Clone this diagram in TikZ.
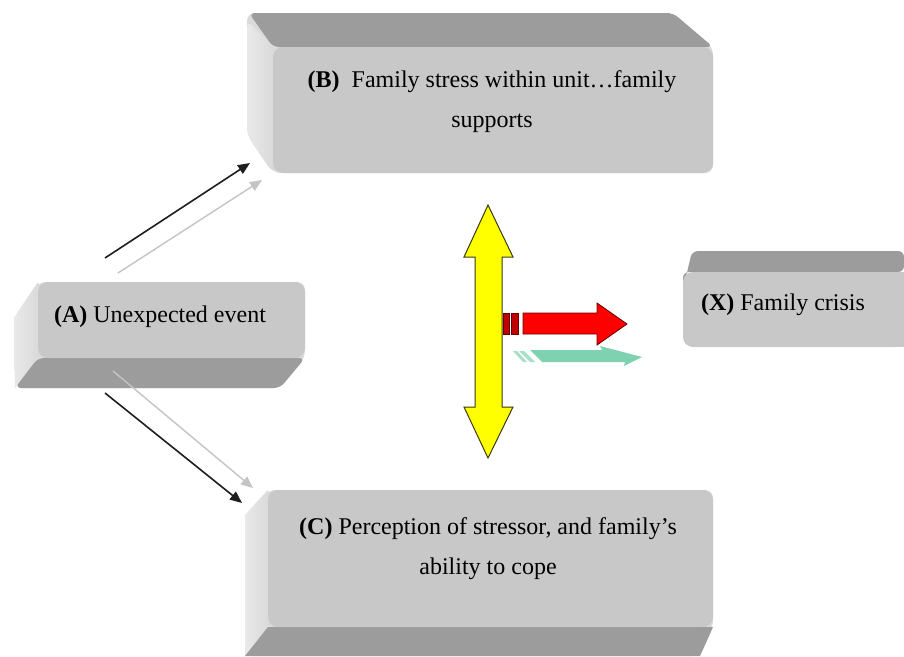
\documentclass[tikz,border=0pt]{standalone}
\usepackage{fontspec}
\setmainfont{Liberation Serif}
\usetikzlibrary{arrows.meta}
\definecolor{frontgray}{HTML}{C8C8C8}
\definecolor{darkface}{HTML}{9C9C9C}
\definecolor{lightface}{HTML}{DADADA}
\definecolor{lineblack}{HTML}{1E1E1E}
\definecolor{linegray}{HTML}{C4C4C4}
\definecolor{yellowfill}{HTML}{FFFF00}
\definecolor{yellowedge}{HTML}{3A3A10}
\definecolor{redfill}{HTML}{FF0000}
\definecolor{redstripe}{HTML}{C00000}
\definecolor{rededge}{HTML}{6A0000}
\definecolor{mint}{HTML}{7ED2B0}
\definecolor{mintlight}{HTML}{A6E0C8}
\tikzset{
  lbl/.style={align=center, inner sep=0pt, font=\fontsize{24}{40}\selectfont, text=black},
  frontface/.style={fill=frontgray, rounded corners=10pt},
  topface/.style={fill=darkface, rounded corners=6pt},
  sideface/.style={fill=lightface, rounded corners=8pt},
  blackarrow/.style={draw=lineblack, line width=1.6pt, -{Triangle[length=12pt,width=10pt]}},
  grayarrow/.style={draw=linegray, line width=1.4pt, -{Triangle[length=12pt,width=10pt]}},
}
\begin{document}
\begin{tikzpicture}[x=1pt,y=-1pt]
\useasboundingbox (0,0) rectangle (904,656);
\fill[white] (0,0) rectangle (904,656);

% ---- Box B ----
\fill[sideface] (247,13) -- (673,13) -- (713,47) -- (713,173) -- (273,173) -- (247,135) -- cycle;
\shade[left color=lightface!60!white, right color=lightface, rounded corners=8pt] (247,20) -- (273,47) -- (273,173) -- (247,135) -- cycle;
\fill[topface] (249,13) -- (673,13) -- (713,47) -- (273,47) -- cycle;
\fill[frontface] (273,47) rectangle (713,173);

% ---- Box A ----
\fill[sideface] (14,318) -- (38,282) -- (305,282) -- (305,358) -- (280,388) -- (15,388) -- cycle;
\shade[left color=lightface!60!white, right color=lightface] (14,318) -- (38,282) -- (38,358) -- (15,388) -- cycle;
\fill[topface] (38,358) -- (305,358) -- (280,388) -- (15,388) -- cycle;
\fill[frontface] (38,282) rectangle (305,358);

% ---- Box C ----
\fill[sideface] (245,515) -- (268,490) -- (713,490) -- (713,627) -- (700,656) -- (245,656) -- cycle;
\shade[left color=lightface!60!white, right color=lightface] (245,515) -- (268,490) -- (268,627) -- (245,656) -- cycle;
\fill[darkface] (268,627) -- (713,627) -- (700,656) -- (245,656) -- cycle;
\fill[frontface] (268,490) rectangle (713,627);

% ---- Box X ----
\fill[topface] (683,290) -- (692,251) -- (904,251) -- (904,272) -- (683,272) -- cycle;
\fill[frontface] (683,272) rectangle (904,347);
\fill[frontgray] (880,272) rectangle (904,347);

% ---- Labels ----
\node[lbl] (B) at (492,102) {\textbf{(B)}\ \ Family stress within unit…family\\supports};
\node[lbl] (A) at (160,317) {\textbf{(A)} Unexpected event};
\node[lbl] (C) at (488,549) {\textbf{(C)} Perception of stressor, and family’s\\ability to cope};
\node[lbl] (X) at (783,305) {\textbf{(X)} Family crisis};

% ---- Arrows from A ----
\coordinate (aUpBlack) at (105,258);
\coordinate (bBlack) at (250,163);
\coordinate (aUpGray) at (118,273);
\coordinate (bGray) at (262,180);
\coordinate (aDnBlack) at (105,393);
\coordinate (cBlack) at (242,503);
\coordinate (aDnGray) at (113,371);
\coordinate (cGray) at (253,488);
\draw[grayarrow] (aUpGray) -- (bGray);
\draw[blackarrow] (aUpBlack) -- (bBlack);
\draw[grayarrow] (aDnGray) -- (cGray);
\draw[blackarrow] (aDnBlack) -- (cBlack);

% ---- Yellow double arrow ----
\filldraw[fill=yellowfill, draw=yellowedge, line width=1pt, line join=miter]
  (488,205) -- (513,257) -- (502,257) -- (502,407) -- (513,407) -- (488,458)
  -- (464,407) -- (475,407) -- (475,257) -- (464,257) -- cycle;

% ---- Green shadow ----
\fill[mintlight] (513,351) -- (517,351) -- (527,362) -- (523,362) -- cycle;
\fill[mintlight] (519,351) -- (524,351) -- (535,362) -- (530,362) -- cycle;
\fill[mint] (530,350) -- (602,350) -- (600,346) -- (642,357) -- (624,366) -- (625,362) -- (542,362) -- cycle;

% ---- Red arrow ----
\filldraw[fill=redstripe, draw=rededge, line width=0.8pt] (503,313) rectangle (509,334);
\filldraw[fill=redstripe, draw=rededge, line width=0.8pt] (511,313) rectangle (518,334);
\filldraw[fill=redfill, draw=rededge, line width=0.8pt, line join=miter]
  (523,313) -- (597,313) -- (597,303) -- (627,324) -- (597,345) -- (597,334) -- (523,334) -- cycle;
\end{tikzpicture}
\end{document}
